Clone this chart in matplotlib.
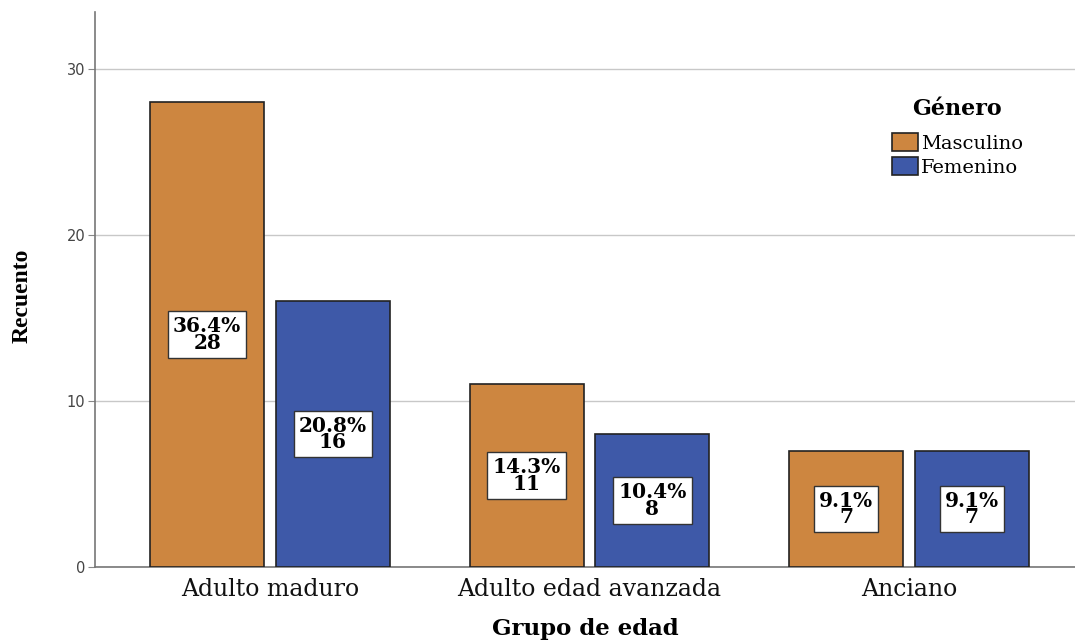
import matplotlib
matplotlib.use("Agg")
import matplotlib.pyplot as plt
import numpy as np

groups = ["Adulto maduro", "Adulto edad avanzada", "Anciano"]
masculino = [28, 11, 7]
femenino = [16, 8, 7]
pct_masculino = ["36.4%", "14.3%", "9.1%"]
pct_femenino = ["20.8%", "10.4%", "9.1%"]
yticks = [0, 10, 20, 30]

c_masc = "#CD8640"
c_fem = "#3E59A8"

fig = plt.figure(figsize=(10.75, 6.42), dpi=100)
ax = fig.add_axes([0.0884, 0.1168, 0.9116, 0.8645])

x = np.arange(len(groups))
w = 0.357
off = 0.197
bm = ax.bar(x - off, masculino, w, color=c_masc, edgecolor="#222222", linewidth=1.2, zorder=3, label="Masculino")
bf = ax.bar(x + off, femenino, w, color=c_fem, edgecolor="#222222", linewidth=1.2, zorder=3, label="Femenino")

box_font = dict(family="DejaVu Serif", weight="bold", size=14.5)
for bars, vals, pcts in ((bm, masculino, pct_masculino), (bf, femenino, pct_femenino)):
    for b, v, p in zip(bars, vals, pcts):
        ax.text(b.get_x() + b.get_width() / 2, v / 2, f"{p}\n{v}", ha="center", va="center",
                linespacing=0.78, zorder=5, **box_font,
                bbox=dict(boxstyle="square,pad=0.25", facecolor="white", edgecolor="#333333", linewidth=1.0))

ax.set_xlim(-0.548, 2.52)
ax.set_ylim(0, 33.4)
ax.set_yticks(yticks)
ax.set_yticklabels([str(t) for t in yticks], fontsize=10.5, color="#444444", family="DejaVu Sans")
ax.set_xticks(x)
ax.set_xticklabels(groups, family="DejaVu Serif", fontsize=17, color="#111111")
ax.tick_params(axis="x", length=0, pad=8)
ax.tick_params(axis="y", length=5, color="#888888", pad=2)
ax.yaxis.grid(True, color="#c8c8c8", linewidth=1.0, zorder=0)
ax.set_axisbelow(True)
for s in ("top", "right"):
    ax.spines[s].set_visible(False)
ax.spines["left"].set_color("#777777")
ax.spines["bottom"].set_color("#777777")
ax.spines["left"].set_linewidth(1.2)
ax.spines["bottom"].set_linewidth(1.2)

ax.set_xlabel("Grupo de edad", family="DejaVu Serif", fontsize=16.5, fontweight="bold", labelpad=12)
fig.text(0.021, 0.54, "Recuento", rotation=90, ha="center", va="center",
         family="Liberation Serif", fontsize=17, fontweight="bold")

leg = ax.legend(loc="upper center", bbox_to_anchor=(0.88, 0.862), frameon=False,
                title="Género", prop=dict(family="DejaVu Serif", size=14),
                handlelength=1.35, handleheight=1.1, handletextpad=0.15, labelspacing=0.2,
                borderpad=0)
leg.get_title().set_fontproperties(dict(family="DejaVu Serif", size=16, weight="bold"))
leg._legend_box.align = "center"
leg._legend_box.sep = 9

fig.savefig("out.png", dpi=100)
